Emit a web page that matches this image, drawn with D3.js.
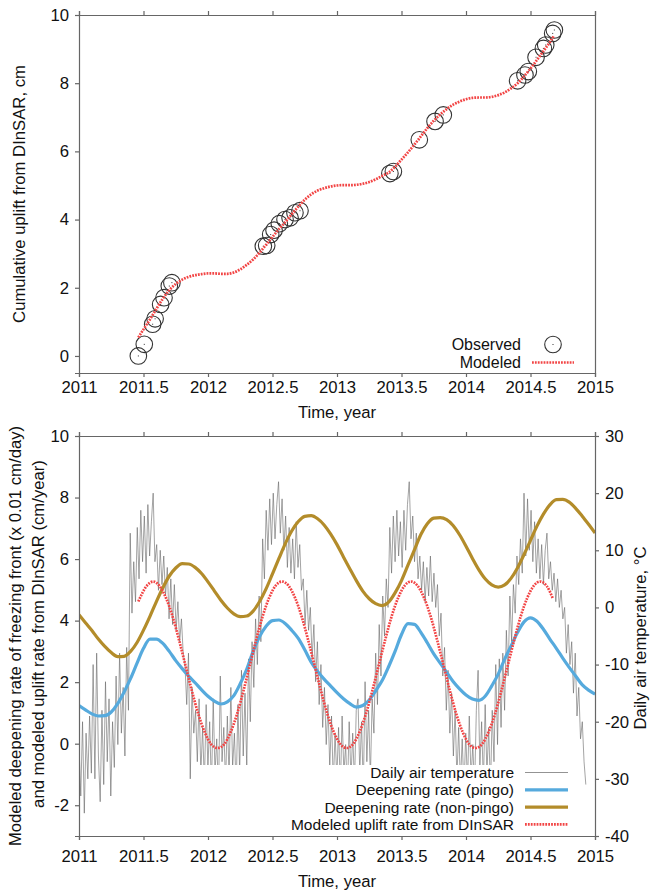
<!DOCTYPE html>
<html><head><meta charset="utf-8">
<script src="https://cdn.jsdelivr.net/npm/d3@7"></script>
<style>
body{margin:0;background:#fff}
text{font-family:"Liberation Sans",Arial,Helvetica,sans-serif;fill:#111}
</style>
</head><body>
<svg id="c" width="650" height="890" xmlns="http://www.w3.org/2000/svg"></svg>
<script>
// ---------- DATA ----------
const xTicks = [2011, 2011.5, 2012, 2012.5, 2013, 2013.5, 2014, 2014.5, 2015];
const yTicksTop = [0, 2, 4, 6, 8, 10];
const yTicksLeft = [-2, 0, 2, 4, 6, 8, 10];
const yTicksTemp = [-40, -30, -20, -10, 0, 10, 20, 30];

// top panel: observed cumulative uplift (cm)
const obsT = [2011.46, 2011.506, 2011.571, 2011.59, 2011.633, 2011.659, 2011.70, 2011.72,
  2012.429, 2012.455, 2012.486, 2012.512, 2012.553, 2012.597, 2012.636, 2012.674, 2012.713,
  2013.41, 2013.437, 2013.638, 2013.76, 2013.824,
  2014.40, 2014.457, 2014.483, 2014.543, 2014.60, 2014.618, 2014.672, 2014.685];
const obsY = [0.0, 0.34, 0.93, 1.09, 1.51, 1.71, 2.05, 2.15,
  3.22, 3.24, 3.56, 3.69, 3.88, 4.0, 4.05, 4.2, 4.26,
  5.35, 5.41, 6.34, 6.88, 7.07,
  8.07, 8.24, 8.34, 8.76, 9.02, 9.12, 9.46, 9.56];

// top panel: modeled cumulative uplift (cm)
const modT = [2011.46, 2011.50, 2011.55, 2011.60, 2011.65, 2011.70, 2011.75, 2011.80, 2011.85, 2011.90, 2011.95,
  2012.00, 2012.05, 2012.10, 2012.15, 2012.20, 2012.25, 2012.30, 2012.35, 2012.40, 2012.45, 2012.50, 2012.55,
  2012.60, 2012.65, 2012.70, 2012.75, 2012.80, 2012.85, 2012.90, 2012.95,
  2013.00, 2013.05, 2013.10, 2013.15, 2013.20, 2013.25, 2013.30, 2013.35, 2013.40, 2013.45, 2013.50, 2013.55,
  2013.60, 2013.65, 2013.70, 2013.75, 2013.80, 2013.85, 2013.90, 2013.95,
  2014.00, 2014.05, 2014.10, 2014.15, 2014.20, 2014.25, 2014.30, 2014.35, 2014.40, 2014.45, 2014.50, 2014.55,
  2014.60, 2014.65, 2014.68];
const modY = [0.54, 0.78, 1.07, 1.38, 1.68, 1.93, 2.11, 2.24, 2.32, 2.37, 2.40,
  2.42, 2.42, 2.41, 2.41, 2.45, 2.54, 2.67, 2.83, 3.03, 3.26, 3.49, 3.72,
  3.93, 4.16, 4.38, 4.58, 4.74, 4.85, 4.92, 4.97,
  5.00, 5.01, 5.01, 5.02, 5.05, 5.10, 5.18, 5.28, 5.38, 5.55, 5.76, 5.97,
  6.20, 6.44, 6.68, 6.90, 7.08, 7.24, 7.37, 7.46,
  7.53, 7.57, 7.58, 7.58, 7.60, 7.65, 7.73, 7.85, 8.00, 8.20, 8.43, 8.68,
  8.94, 9.20, 9.38];

// bottom panel: deepening rates, sampled every 0.05 year from 2011 to 2015
const rateT = d3.range(81).map(i => 2011 + i * 0.05);
const pingoRate = [1.24, 1.10, 0.97, 0.90, 0.91, 1.03, 1.30, 1.68, 2.12, 2.62,
  3.10, 3.40, 3.40, 3.26, 3.00, 2.70, 2.44, 2.20, 1.98, 1.75,
  1.54, 1.38, 1.29, 1.36, 1.56, 1.95, 2.42, 3.00, 3.48, 3.82,
  4.00, 4.02, 3.90, 3.68, 3.42, 3.05, 2.65, 2.35, 2.10, 1.88,
  1.66, 1.46, 1.30, 1.19, 1.24, 1.42, 1.72, 2.05, 2.50, 3.00,
  3.55, 3.90, 3.88, 3.62, 3.28, 2.92, 2.62, 2.32, 2.02, 1.78,
  1.58, 1.45, 1.41, 1.55, 1.88, 2.26, 2.75, 3.18, 3.62, 3.96,
  4.09, 3.98, 3.72, 3.40, 3.10, 2.78, 2.48, 2.20, 1.92, 1.74, 1.61];
const nonPingoRate = [4.19, 3.93, 3.68, 3.40, 3.16, 2.96, 2.83, 2.84, 3.00, 3.29,
  3.69, 4.14, 4.62, 5.07, 5.45, 5.71, 5.85, 5.84, 5.73, 5.53,
  5.26, 4.96, 4.66, 4.41, 4.22, 4.13, 4.15, 4.31, 4.62, 5.03,
  5.52, 6.02, 6.51, 6.92, 7.22, 7.39, 7.41, 7.31, 7.11, 6.82,
  6.47, 6.07, 5.68, 5.30, 4.96, 4.71, 4.55, 4.49, 4.60, 4.90,
  5.30, 5.80, 6.30, 6.80, 7.15, 7.33, 7.35, 7.28, 7.09, 6.79,
  6.42, 6.02, 5.65, 5.35, 5.16, 5.09, 5.16, 5.38, 5.72, 6.15,
  6.61, 7.07, 7.46, 7.76, 7.93, 7.94, 7.85, 7.65, 7.40, 7.13, 6.85];

// bottom panel: modeled uplift rate from DInSAR (cm/year)
const upliftRateT = [2011.46].concat(d3.range(64).map(i => 2011.525 + i * 0.05));
const upliftRate = [4.62,
  5.13, 5.27, 5.12, 4.73, 4.14, 3.38, 2.55, 1.72, 0.96, 0.37, -0.02, -0.14, -0.02, 0.37, 0.96, 1.72, 2.56, 3.40, 4.16, 4.75,
  5.14, 5.27, 5.13, 4.74, 4.15, 3.39, 2.56, 1.73, 0.97, 0.38, -0.01, -0.14, -0.01, 0.38, 0.98, 1.74, 2.57, 3.40, 4.16, 4.75,
  5.14, 5.27, 5.13, 4.74, 4.15, 3.39, 2.56, 1.72, 0.96, 0.37, -0.02, -0.14, -0.01, 0.38, 0.97, 1.73, 2.56, 3.39, 4.15, 4.74,
  5.13, 5.27, 5.13, 4.70];

// bottom panel: air temperature (°C), one reading every 5 days from 1 Jan 2011
const tempStart = 2011.0;
const tempStepDays = 5;
const airTemp = [
  -24, -33, -20, -36, -22, -30, -19, -29, -10, -30, -8, -26, -34, -18, -31, -13, -27, -16, -33, -20,
  -28, -12, -24, -8, -22, -14, -26, -7, -18, 13, -1, 8, 1, 14, 5, 17, 8, 16, 6, 18,
  9, 15, 20, 8, 11, 3, 10, 4, 9, 2, 7, -2, 5, -3, 4, -4, 1, -6, -2, -8,
  -10, -17, -8, -30, -14, -22, -18, -27, -16, -29, -21, -31, -17,
  -28, -20, -32, -16, -29, -23, -33, -12, -27, -21, -31, -19, -30, -14, -28, -22, -32, -17, -29, -11,
  -26, -15, -28, -9, -20, -6, -14, -2, -10, 2, -6, 12, 5, 17, 10, 19, 11, 20, 12, 18,
  22, 13, 19, 10, 16, 7, 14, 6, 12, 5, 15, 7, 11, 3, 5, -3, 3, -4, 0, -9,
  -3, -13, -6, -17, -10, -21, -14, -24, -17, -28, -19, -31, -22,
  -30, -21, -32, -19, -29, -24, -33, -20, -30, -22, -31, -18, -16, -29, -20, -32, -13, -27, -18, -30,
  -16, -22, -8, -17, -3, -12, 2, -5, 5, 0, 14, 6, 16, 8, 17, 9, 15, 7, 17, 10,
  18, 22, 12, 16, 8, 13, 5, 9, 3, 8, 1, 7, 2, 9, 1, 6, 0, 4, -5, -1,
  -12, -7, -18, -11, -22, -15, -26, -18, -30, -21, -31, -23, -32,
  -22, -31, -19, -30, -24, -32, -18, -11, -28, -20, -31, -17, -29, -21, -32, -18, -27, -10, -24, -9,
  -21, -8, -18, -4, -12, 2, -6, 4, -1, 9, 4, 12, 6, 20, 9, 19, 10, 17, 8, 15,
  6, 12, 5, 11, 4, 10, 13, 5, 8, 3, 6, 1, 5, 0, 3, -2, 0, -8, -3, -10,
  -6, -15, -8, -19, -14, -23, -20, -27, -31];

// ---------- DRAWING ----------
const svg = d3.select('#c');
const L = 79, R = 595;
const FS = 16.7;
const LFS = 15.5;
const x = d3.scaleLinear().domain([2011, 2015]).range([L, R]);
const axisColor = '#666';
const fmt = d => String(d);

function styleAxis(g) {
  g.selectAll('path.domain').attr('stroke', axisColor).attr('stroke-width', 1.2);
  g.selectAll('.tick line').attr('stroke', axisColor).attr('stroke-width', 1.2);
  g.selectAll('.tick text').attr('font-size', FS).attr('fill', '#111')
    .attr('font-family', '"Liberation Sans", Arial, sans-serif');
}

// ===== TOP PANEL =====
const T1 = 15, B1 = 373;
const yTop = d3.scaleLinear().domain([-0.5, 10]).range([B1, T1]);

svg.append('g').selectAll('circle').data(obsT).join('circle')
  .attr('cx', (d) => x(d)).attr('cy', (d, i) => yTop(obsY[i]))
  .attr('r', 8.3).attr('fill', 'none').attr('stroke', '#333').attr('stroke-width', 1.1);
svg.append('g').selectAll('rect').data(obsT).join('rect')
  .attr('x', d => x(d) - 0.5).attr('y', (d, i) => yTop(obsY[i]) - 0.5)
  .attr('width', 1).attr('height', 1).attr('fill', '#333');

svg.append('path')
  .datum(modT.map((t, i) => [t, modY[i]]))
  .attr('d', d3.line().x(d => x(d[0])).y(d => yTop(d[1])).curve(d3.curveMonotoneX))
  .attr('fill', 'none').attr('stroke', '#f24545').attr('stroke-width', 2.7)
  .attr('stroke-dasharray', '1.8 1.1');

let g;
g = svg.append('g').attr('transform', `translate(0,${B1})`)
  .call(d3.axisBottom(x).tickValues(xTicks).tickFormat(fmt).tickSize(4).tickPadding(4));
styleAxis(g);
g = svg.append('g').attr('transform', `translate(0,${T1})`)
  .call(d3.axisTop(x).tickValues(xTicks).tickFormat('').tickSize(4));
styleAxis(g);
g = svg.append('g').attr('transform', `translate(${L},0)`)
  .call(d3.axisLeft(yTop).tickValues(yTicksTop).tickFormat(fmt).tickSize(4).tickPadding(6));
styleAxis(g);
g = svg.append('g').attr('transform', `translate(${R},0)`)
  .call(d3.axisRight(yTop).tickValues([]).tickSize(0));
styleAxis(g);

svg.append('text').attr('x', (L + R) / 2).attr('y', 418).attr('text-anchor', 'middle')
  .attr('font-size', FS).text('Time, year');
svg.append('text').attr('transform', `translate(19,${(T1 + B1) / 2}) rotate(-90)`)
  .attr('text-anchor', 'middle').attr('dy', '0.35em').attr('font-size', FS)
  .text('Cumulative uplift from DInSAR, cm');

svg.append('text').attr('x', 521).attr('y', 344.5).attr('dy', '0.35em').attr('text-anchor', 'end')
  .attr('font-size', 16).text('Observed');
svg.append('circle').attr('cx', 553).attr('cy', 344.5).attr('r', 8.3)
  .attr('fill', 'none').attr('stroke', '#333').attr('stroke-width', 1.1);
svg.append('rect').attr('x', 552.5).attr('y', 344).attr('width', 1).attr('height', 1).attr('fill', '#333');
svg.append('text').attr('x', 521).attr('y', 362.5).attr('dy', '0.35em').attr('text-anchor', 'end')
  .attr('font-size', 16).text('Modeled');
svg.append('line').attr('x1', 532).attr('x2', 574).attr('y1', 362.5).attr('y2', 362.5)
  .attr('stroke', '#f24545').attr('stroke-width', 2.7).attr('stroke-dasharray', '1.8 1.1');

// ===== BOTTOM PANEL =====
const T2 = 436, B2 = 836;
const yBot = d3.scaleLinear().domain([-3, 10]).range([B2, T2]);
const yTemp = d3.scaleLinear().domain([-40, 30]).range([B2, T2]);

svg.append('defs').append('clipPath').attr('id', 'clipB')
  .append('rect').attr('x', L).attr('y', T2).attr('width', R - L).attr('height', B2 - T2);
const plot = svg.append('g').attr('clip-path', 'url(#clipB)');

const tempData = airTemp.map((v, i) => [tempStart + i * tempStepDays / 365.25, v]);
plot.append('path').datum(tempData)
  .attr('d', d3.line().x(d => x(d[0])).y(d => yTemp(d[1])))
  .attr('fill', 'none').attr('stroke', '#666').attr('stroke-width', 0.7).attr('stroke-opacity', 0.85);

plot.append('path').datum(rateT.map((t, i) => [t, pingoRate[i]]))
  .attr('d', d3.line().x(d => x(d[0])).y(d => yBot(d[1])).curve(d3.curveMonotoneX))
  .attr('fill', 'none').attr('stroke', '#56aadd').attr('stroke-width', 3.2);

plot.append('path').datum(rateT.map((t, i) => [t, nonPingoRate[i]]))
  .attr('d', d3.line().x(d => x(d[0])).y(d => yBot(d[1])).curve(d3.curveMonotoneX))
  .attr('fill', 'none').attr('stroke', '#b38c2a').attr('stroke-width', 3.2);

plot.append('path').datum(upliftRateT.map((t, i) => [t, upliftRate[i]]))
  .attr('d', d3.line().x(d => x(d[0])).y(d => yBot(d[1])).curve(d3.curveMonotoneX))
  .attr('fill', 'none').attr('stroke', '#f24545').attr('stroke-width', 2.7)
  .attr('stroke-dasharray', '1.8 1.1');

svg.append('rect').attr('x', 198).attr('y', 765).attr('width', 377).attr('height', 70).attr('fill', '#fff');

const legB = [
  {label: 'Daily air temperature', color: '#777', w: 0.8, dash: null},
  {label: 'Deepening rate (pingo)', color: '#56aadd', w: 3.2, dash: null},
  {label: 'Deepening rate (non-pingo)', color: '#b38c2a', w: 3.2, dash: null},
  {label: 'Modeled uplift rate from DInSAR', color: '#f24545', w: 2.7, dash: '1.8 1.1'}
];
legB.forEach((e, i) => {
  const yy = 772.5 + i * 17.3;
  svg.append('text').attr('x', 514).attr('y', yy).attr('dy', '0.35em').attr('text-anchor', 'end')
    .attr('font-size', LFS).text(e.label);
  const ln = svg.append('line').attr('x1', 525).attr('x2', 568).attr('y1', yy).attr('y2', yy)
    .attr('stroke', e.color).attr('stroke-width', e.w);
  if (e.dash) ln.attr('stroke-dasharray', e.dash);
});

g = svg.append('g').attr('transform', `translate(0,${B2})`)
  .call(d3.axisBottom(x).tickValues(xTicks).tickFormat(fmt).tickSize(4).tickPadding(10));
styleAxis(g);
g = svg.append('g').attr('transform', `translate(0,${T2})`)
  .call(d3.axisTop(x).tickValues(xTicks).tickFormat('').tickSize(4));
styleAxis(g);
g = svg.append('g').attr('transform', `translate(${L},0)`)
  .call(d3.axisLeft(yBot).tickValues(yTicksLeft).tickFormat(fmt).tickSize(4).tickPadding(6));
styleAxis(g);
g = svg.append('g').attr('transform', `translate(${R},0)`)
  .call(d3.axisRight(yTemp).tickValues(yTicksTemp).tickFormat(fmt).tickSize(4).tickPadding(6));
styleAxis(g);

svg.append('text').attr('x', (L + R) / 2).attr('y', 887).attr('text-anchor', 'middle')
  .attr('font-size', FS).text('Time, year');
svg.append('text').attr('transform', `translate(15,636) rotate(-90)`)
  .attr('text-anchor', 'middle').attr('dy', '0.35em').attr('font-size', FS)
  .text('Modeled deepening rate of freezing front (x 0.01 cm/day)');
svg.append('text').attr('transform', `translate(38,634) rotate(-90)`)
  .attr('text-anchor', 'middle').attr('dy', '0.35em').attr('font-size', FS)
  .text('and modeled uplift rate from DInSAR (cm/year)');
svg.append('text').attr('transform', `translate(640,638) rotate(-90)`)
  .attr('text-anchor', 'middle').attr('dy', '0.35em').attr('font-size', FS)
  .text('Daily air temperature, °C');
</script>
</body></html>
